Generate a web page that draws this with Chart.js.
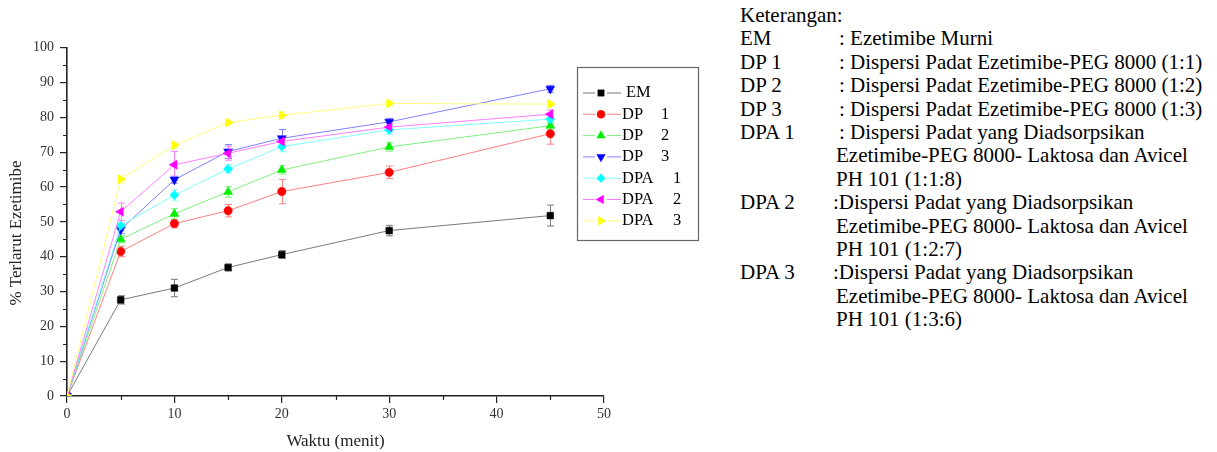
<!DOCTYPE html>
<html>
<head>
<meta charset="utf-8">
<script src="https://cdn.jsdelivr.net/npm/chart.js@4/dist/chart.umd.min.js"></script>
<style>
  html, body { margin: 0; padding: 0; background: #fff; }
  #wrap { position: relative; width: 1217px; height: 452px; overflow: hidden; }
  #cv { position: absolute; left: 0; top: 0; }
  #notes { position: absolute; left: 740px; top: 4px; font-family: "Liberation Serif", "Times New Roman", serif; font-size: 21px; line-height: 23.4px; color: #000; }
  #notes .row { display: flex; }
  #notes .k { width: 96px; flex: none; }
  #notes .v { white-space: nowrap; }
</style>
</head>
<body>
<div id="wrap">
  <canvas id="cv" width="730" height="452"></canvas>
  <div id="notes"></div>
</div>
<script>
// ---- data ----
const times = [0, 5, 10, 15, 20, 30, 45];
const seriesNames = ['EM', 'DP   1', 'DP   2', 'DP   3', 'DPA   1', 'DPA   2', 'DPA   3'];
const emValues   = [0, 27.6, 31.0, 36.9, 40.6, 47.5, 51.8];
const dp1Values  = [0, 41.5, 49.5, 53.2, 58.7, 64.2, 75.3];
const dp2Values  = [0, 45.0, 52.3, 58.6, 64.9, 71.5, 77.6];
const dp3Values  = [0, 47.8, 62.1, 70.2, 74.0, 78.7, 88.2];
const dpa1Values = [0, 48.9, 57.7, 65.2, 71.6, 76.4, 79.5];
const dpa2Values = [0, 52.9, 66.4, 69.7, 73.1, 77.2, 80.9];
const dpa3Values = [0, 62.2, 72.0, 78.5, 80.6, 84.0, 83.8];
const emErr   = [0, 1.2, 2.5, 1.0, 1.1, 1.5, 3.0];
const dp1Err  = [0, 1.5, 1.2, 1.8, 3.5, 1.8, 3.0];
const dp2Err  = [0, 1.0, 1.5, 1.5, 1.2, 1.2, 1.0];
const dp3Err  = [0, 1.2, 1.0, 2.0, 2.5, 1.0, 1.0];
const dpa1Err = [0, 1.5, 1.5, 1.2, 1.5, 1.2, 1.2];
const dpa2Err = [0, 2.5, 3.8, 2.0, 1.0, 1.0, 1.2];
const dpa3Err = [0, 1.0, 1.0, 0.8, 1.0, 0.8, 0.8];
const xTicks = [0, 10, 20, 30, 40, 50];
const yTicks = [0, 10, 20, 30, 40, 50, 60, 70, 80, 90, 100];
const xTitle = 'Waktu (menit)';
const yTitle = '% Terlarut Ezetimibe';
const notesTitle = 'Keterangan:';
const noteKeys = ['EM', 'DP 1', 'DP 2', 'DP 3', 'DPA 1', '', '', 'DPA 2', '', '', 'DPA 3', '', ''];
const noteVals = [': Ezetimibe Murni',
  ': Dispersi Padat Ezetimibe-PEG 8000 (1:1)',
  ': Dispersi Padat Ezetimibe-PEG 8000 (1:2)',
  ': Dispersi Padat Ezetimibe-PEG 8000 (1:3)',
  ': Dispersi Padat yang Diadsorpsikan',
  'Ezetimibe-PEG 8000- Laktosa dan Avicel',
  'PH 101 (1:1:8)',
  ':Dispersi Padat yang Diadsorpsikan',
  'Ezetimibe-PEG 8000- Laktosa dan Avicel',
  'PH 101 (1:2:7)',
  ':Dispersi Padat yang Diadsorpsikan',
  'Ezetimibe-PEG 8000- Laktosa dan Avicel',
  'PH 101 (1:3:6)'];

// ---- styles ----
const allValues = [emValues, dp1Values, dp2Values, dp3Values, dpa1Values, dpa2Values, dpa3Values];
const allErr = [emErr, dp1Err, dp2Err, dp3Err, dpa1Err, dpa2Err, dpa3Err];
const markerColors = ['#000000', '#ff0000', '#00ee00', '#0000ff', '#00ffff', '#ff00ff', '#ffff00'];
const lineColors = ['#7a7a7a', '#ff8080', '#80f080', '#8080ff', '#80ffff', '#ff80ff', '#ffff80'];
const pStyles = ['rect', 'circle', 'triangle', 'triangle', 'rectRot', 'triangle', 'triangle'];
const pRot = [0, 0, 0, 180, 0, -90, 90];
const pRad = [4.7, 4.2, 5.2, 5.2, 4.6, 5.2, 5.2];

// notes
const notes = document.getElementById('notes');
const t = document.createElement('div'); t.textContent = notesTitle; notes.appendChild(t);
noteKeys.forEach((k, i) => {
  const r = document.createElement('div'); r.className = 'row';
  const a = document.createElement('div'); a.className = 'k'; a.textContent = k;
  const b = document.createElement('div'); b.className = 'v'; b.textContent = noteVals[i];
  const v = noteVals[i];
  if (v.startsWith(': ')) b.style.marginLeft = '3px';
  else if (v.startsWith(':')) b.style.marginLeft = '-3px';
  r.appendChild(a); r.appendChild(b); notes.appendChild(r);
});

const datasets = allValues.map((vals, i) => ({
  label: seriesNames[i],
  data: times.map((x, j) => ({ x: x, y: vals[j] })),
  borderColor: lineColors[i],
  borderWidth: 1,
  backgroundColor: markerColors[i],
  pointBackgroundColor: markerColors[i],
  pointBorderColor: markerColors[i],
  pointBorderWidth: 0.5,
  pointStyle: pStyles[i],
  pointRotation: pRot[i],
  pointRadius: pRad[i],
  tension: 0,
  order: allValues.length - i,
  errs: allErr[i]
}));

const FONT = '"Liberation Serif", "Times New Roman", serif';

const errorBars = {
  id: 'errorBars',
  beforeDatasetsDraw(chart) {
    const ctx = chart.ctx, xs = chart.scales.x, ys = chart.scales.y;
    ctx.save();
    chart.data.datasets.forEach((ds, i) => {
      ctx.strokeStyle = ds.borderColor;
      ctx.lineWidth = 1;
      ds.data.forEach((p, j) => {
        const e = ds.errs[j];
        if (!e) return;
        const px = Math.round(xs.getPixelForValue(p.x)) + 0.5;
        const y1 = ys.getPixelForValue(p.y + e), y2 = ys.getPixelForValue(p.y - e);
        ctx.beginPath();
        ctx.moveTo(px, y1); ctx.lineTo(px, y2);
        ctx.moveTo(px - 3.5, y1); ctx.lineTo(px + 3.5, y1);
        ctx.moveTo(px - 3.5, y2); ctx.lineTo(px + 3.5, y2);
        ctx.stroke();
      });
    });
    ctx.restore();
  }
};

const extras = {
  id: 'extras',
  afterDraw(chart) {
    const ctx = chart.ctx, xs = chart.scales.x, ys = chart.scales.y, a = chart.chartArea;
    ctx.save();
    // minor ticks
    ctx.strokeStyle = '#222'; ctx.lineWidth = 1.2;
    ctx.beginPath();
    for (let v = 5; v < 50; v += 10) {
      const px = Math.round(xs.getPixelForValue(v)) + 0.5;
      ctx.moveTo(px, a.bottom); ctx.lineTo(px, a.bottom + 4);
    }
    for (let v = 5; v < 100; v += 10) {
      const py = Math.round(ys.getPixelForValue(v)) + 0.5;
      ctx.moveTo(a.left, py); ctx.lineTo(a.left - 4, py);
    }
    ctx.stroke();
    // y title
    ctx.fillStyle = '#222';
    ctx.font = '17px ' + FONT;
    ctx.textAlign = 'center'; ctx.textBaseline = 'middle';
    ctx.translate(17, 233);
    ctx.rotate(-Math.PI / 2);
    ctx.fillText(yTitle, 0, 0);
    ctx.restore();

    // legend
    ctx.save();
    const bx = 577.5, by = 67.5, bw = 121, bh = 173;
    ctx.strokeStyle = '#666'; ctx.lineWidth = 1.2;
    ctx.strokeRect(bx, by, bw, bh);
    ctx.font = '16.5px ' + FONT;
    ctx.textBaseline = 'middle';
    chart.data.datasets.forEach((ds, i) => {
      const y = 93 + i * 21.3;
      const cx = 601;
      ctx.strokeStyle = ds.borderColor; ctx.lineWidth = 1;
      ctx.beginPath();
      ctx.moveTo(583, y); ctx.lineTo(cx - 6, y);
      ctx.moveTo(cx + 6, y); ctx.lineTo(621, y);
      ctx.stroke();
      ctx.fillStyle = ds.pointBackgroundColor; ctx.strokeStyle = ds.pointBorderColor;
      ctx.lineWidth = 0.5;
      Chart.helpers.drawPoint(ctx, {
        pointStyle: ds.pointStyle, rotation: ds.pointRotation, radius: ds.pointRadius * 0.95,
        borderWidth: 0.5
      }, cx, y);
      ctx.fillStyle = '#000';
      const parts = ds.label.split(/\s+/);
      if (parts.length === 1) {
        ctx.fillText(parts[0], 626, y);
      } else {
        ctx.fillText(parts[0], 622, y);
        ctx.fillText(parts[1], parts[0] === 'DP' ? 661 : 673, y);
      }
    });
    ctx.restore();
  }
};

new Chart(document.getElementById('cv'), {
  type: 'line',
  data: { datasets: datasets },
  plugins: [errorBars, extras],
  options: {
    responsive: false,
    animation: false,
    events: [],
    layout: { padding: { left: 0, top: 47.7, right: 126, bottom: 0 } },
    plugins: { legend: { display: false }, tooltip: { enabled: false } },
    scales: {
      x: {
        type: 'linear', min: 0, max: 50,
        afterBuildTicks: s => { s.ticks = xTicks.map(v => ({ value: v })); },
        afterFit: s => { s.height = 56; },
        grid: { drawOnChartArea: false, drawTicks: true, tickLength: 7, color: '#222', lineWidth: 1.2 },
        border: { display: true, color: '#222', width: 1.6 },
        ticks: { color: '#333', font: { family: FONT, size: 14 }, padding: 3, maxRotation: 0 },
        title: { display: true, text: xTitle, color: '#222', font: { family: FONT, size: 17 }, padding: { top: 0, bottom: 0 } }
      },
      y: {
        type: 'linear', min: 0, max: 100,
        afterBuildTicks: s => { s.ticks = yTicks.map(v => ({ value: v })); },
        afterFit: s => { s.width = 67; },
        grid: { drawOnChartArea: false, drawTicks: true, tickLength: 7, color: '#222', lineWidth: 1.2 },
        border: { display: true, color: '#222', width: 1.6 },
        ticks: { color: '#333', font: { family: FONT, size: 14 }, padding: 6 },
        title: { display: false }
      }
    }
  }
});
</script>
</body>
</html>
